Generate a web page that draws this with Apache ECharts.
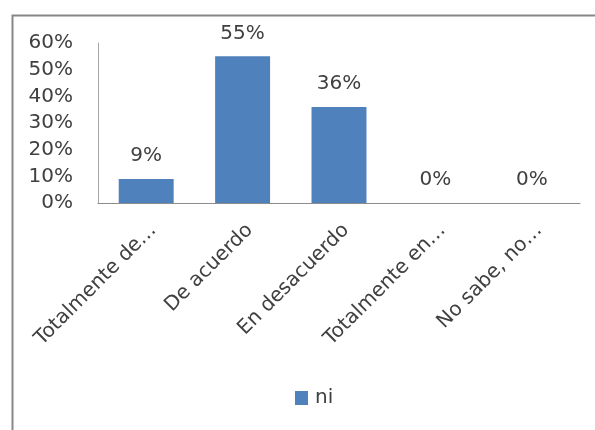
<!DOCTYPE html>
<html><head><meta charset="utf-8">
<script src="https://cdn.jsdelivr.net/npm/echarts@6/dist/echarts.min.js"></script>
<style>html,body{margin:0;padding:0;background:#fff}#c{width:595px;height:430px}</style>
</head><body><div id="c"></div>
<script>
const categories = ["Totalmente de…", "De acuerdo", "En desacuerdo", "Totalmente en…", "No sabe, no…"];
const values = [0.09, 0.55, 0.36, 0, 0];
const seriesName = "ni";
const yTicks = [0, 0.1, 0.2, 0.3, 0.4, 0.5, 0.6];

const font = "'DejaVu Sans', sans-serif";
const chart = echarts.init(document.getElementById('c'));
chart.setOption({
  animation: false,
  graphic: [{
    type: 'rect', left: 10, top: 13,
    shape: { width: 620, height: 440 },
    style: { fill: 'none', stroke: '#878787', lineWidth: 2 }
  }],
  grid: { left: 98, top: 43, width: 482, height: 160, containLabel: false },
  legend: {
    left: 295, top: 388, padding: 0, itemWidth: 13, itemHeight: 14, itemGap: 6,
    icon: 'rect',
    textStyle: { fontFamily: font, fontSize: 20, color: '#404040', padding: [0, 0, 0, 2] },
    data: [seriesName]
  },
  xAxis: {
    type: 'category', data: categories,
    axisLine: { lineStyle: { color: '#8c8c8c', width: 1 } },
    axisTick: { show: false },
    axisLabel: { rotate: 45, interval: 0, margin: 17, verticalAlign: 'top', fontFamily: font, fontSize: 20, color: '#404040' }
  },
  yAxis: {
    type: 'value', min: 0, max: 0.6, interval: 0.1,
    splitLine: { show: false },
    axisLine: { show: true, lineStyle: { color: '#a6a6a6', width: 1 } },
    axisTick: { show: false },
    axisLabel: {
      margin: 25, fontFamily: font, fontSize: 20, color: '#404040',
      formatter: v => Math.round(v * 100) + '%'
    }
  },
  series: [{
    name: seriesName, type: 'bar', data: values,
    barCategoryGap: '43%',
    itemStyle: { color: '#4f81bd' },
    label: {
      show: true, position: 'top', distance: 13,
      fontFamily: font, fontSize: 20, color: '#404040',
      formatter: p => Math.round(p.value * 100) + '%'
    }
  }]
});
</script></body></html>
